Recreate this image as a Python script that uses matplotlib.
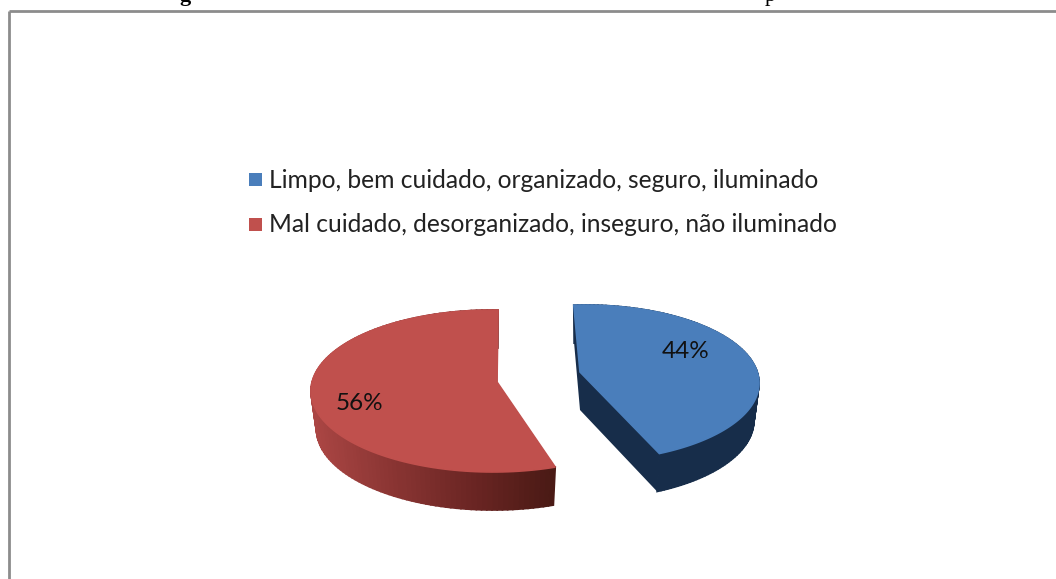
import numpy as np
import matplotlib.pyplot as plt
from matplotlib.colors import LinearSegmentedColormap
from matplotlib.patches import Polygon, Rectangle

labels = ["Limpo, bem cuidado, organizado, seguro, iluminado",
          "Mal cuidado, desorganizado, inseguro, não iluminado"]
values = [44, 56]
top_colors = ["#4a7ebb", "#c0504d"]
pct_labels = ["44%", "56%"]

W, H = 1056, 579
DEPTH = 38
SHRINK = 0.97  # bottom rim is a bit narrower than the top


def rim(cx, cy, a, b, start, extent, n=120):
    t = np.radians(np.linspace(start, start + extent, n))
    return cx + a * np.sin(t), cy - b * np.cos(t)


def wedge(ax, share, start, ell, apex, top_color, wall_cmap):
    cx, cy, a, b = ell
    extent = share * 3.6
    x, y = rim(cx, cy, a, b, start, extent)
    xb = cx + (x - cx) * SHRINK
    yb = y + DEPTH
    apex_b = (apex[0], apex[1] + DEPTH)

    # cut faces, behind everything else
    for i in (0, -1):
        ax.add_patch(Polygon([apex, (x[i], y[i]), (xb[i], yb[i]), apex_b],
                             fc=wall_cmap(1.0), ec="none", zorder=1))
    # outer wall, strip by strip so the shading can run along it
    for i in range(len(x) - 1):
        c = wall_cmap((x[i] - x.min()) / (x.max() - x.min()))
        ax.add_patch(Polygon([(x[i], y[i]), (x[i + 1], y[i + 1]),
                              (xb[i + 1], yb[i + 1]), (xb[i], yb[i])],
                             fc=c, ec=c, lw=1.2, zorder=2))
    # top face, edged in its own colour to cover the wall strokes
    ax.add_patch(Polygon(np.r_[[apex], np.c_[x, y]], fc=top_color, ec=top_color, lw=1.2, zorder=3))


def main():
    plt.rcParams["font.family"] = ["Lato", "DejaVu Sans"]
    fig = plt.figure(figsize=(W / 100, H / 100), dpi=100)
    ax = fig.add_axes([0, 0, 1, 1])
    ax.set_xlim(0, W)
    ax.set_ylim(H, 0)
    ax.axis("off")

    # chart frame, cut by the image on the right and at the bottom
    ax.plot([9, 9], [H, 11], color="#8c8c8c", lw=2, solid_capstyle="butt")
    ax.plot([9, W], [11, 11], color="#8c8c8c", lw=2, solid_capstyle="butt")

    # what is left of the caption above the frame
    ax.text(185, 0.5, "g", family="Liberation Serif", weight="bold", fontsize=16,
            ha="center", va="baseline", clip_on=True)
    ax.text(770, 0.5, "p", family="Liberation Serif", fontsize=16,
            ha="center", va="baseline", clip_on=True)

    blue_wall = LinearSegmentedColormap.from_list("b", ["#172d4a", "#172d4a"])
    red_wall = LinearSegmentedColormap.from_list("r", ["#ab4644", "#8a3533", "#6b2523", "#4a1a15"])

    wedge(ax, values[0], -3.7, (585, 383, 174, 78), (580, 372), top_colors[0], blue_wall)
    wedge(ax, values[1], 160, (493, 391, 182, 81), (497, 382), top_colors[1], red_wall)

    ax.text(686, 352, pct_labels[0], fontsize=17.5, ha="center", va="center", color="#111111", zorder=5)
    ax.text(359, 404, pct_labels[1], fontsize=17.5, ha="center", va="center", color="#111111", zorder=5)

    for lab, col, y in zip(labels, top_colors, [180, 225]):
        ax.add_patch(Rectangle((248.5, y - 7), 13, 13, fc=col, ec="none"))
        ax.text(269, y, lab, fontsize=17.7, ha="left", va="center", color="#222222")

    fig.savefig("out.png", dpi=100)
    plt.close(fig)


if __name__ == "__main__":
    main()
